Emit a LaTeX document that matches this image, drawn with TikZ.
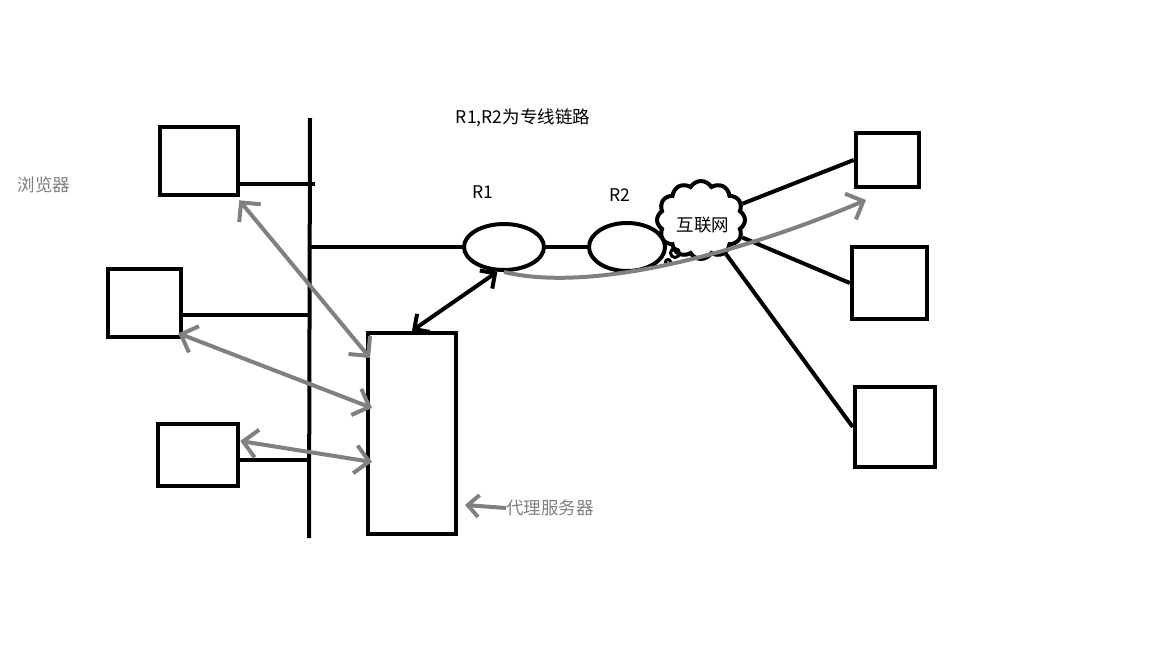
\documentclass[tikz,border=0pt]{standalone}
\usepackage{fontspec}
\setmainfont{Noto Sans CJK SC}
\usetikzlibrary{arrows.meta, shapes.geometric, shapes.symbols, positioning, calc}
\definecolor{pen}{RGB}{128,128,128}

\begin{document}
\begin{tikzpicture}[x=1pt, y=-1pt,
    box/.style={draw, line width=4.5pt, inner sep=0pt},
    router/.style={draw, ellipse, line width=4pt, inner sep=0pt},
    wire/.style={line width=4pt},
    grayarrow/.style={pen, line width=4pt, {Straight Barb[length=14pt, width=28pt]}-{Straight Barb[length=14pt, width=28pt]}},
    blackarrow/.style={line width=4pt, {Straight Barb[length=11pt, width=22pt]}-{Straight Barb[length=11pt, width=22pt]}},
    lbl/.style={font=\fontsize{17.5}{20}\selectfont, inner sep=0pt}]
      \useasboundingbox (0, 0) rectangle (1152, 648);

      % browsers and bus
      \node[box, minimum width=78, minimum height=68] (b1) at (199, 161) {};
      \node[box, minimum width=73, minimum height=68] (b2) at (144.5, 303) {};
      \node[box, minimum width=80, minimum height=62] (b3) at (198, 455) {};
      \coordinate (bustop) at (310, 118);
      \coordinate (busbot) at (309, 538);
      \draw[wire] (bustop) -- (busbot);
      \coordinate (j1) at (315, 184);
      \coordinate (j2) at (310, 315);
      \coordinate (j3) at (310, 460);
      \draw[wire] (b1.east |- j1) -- (j1);
      \draw[wire] (b2.east |- j2) -- (j2);
      \draw[wire] (b3.east |- j3) -- (j3);

      % routers and internet
      \node[router, minimum width=80, minimum height=46] (r1) at (504, 247) {};
      \node[router, minimum width=76, minimum height=48] (r2) at (627, 247) {};
      \node[draw, cloud, cloud puffs=12, cloud puff arc=120, aspect=1.15, line width=4pt,
            minimum width=88, minimum height=78, inner sep=0pt] (net) at (701, 220) {};
      \node[lbl] (netlbl) at (703, 225) {互联网};
      \node[draw, circle, line width=3pt, minimum size=9pt, inner sep=0pt] (bub1) at (675, 253) {};
      \node[draw, circle, line width=3pt, minimum size=5pt, inner sep=0pt] (bub2) at (668, 262) {};
      \coordinate (j4) at (310, 247);
      \draw[wire] (j4) -- (r1.west);
      \draw[wire] (r1.east) -- (r2.west);
      \node[lbl] (r1lbl) at (483, 192) {R1};
      \node[lbl] (r2lbl) at (620, 195) {R2};
      \node[lbl] (title) at (523, 118) {R1,R2为专线链路};

      % servers
      \node[box, minimum width=63, minimum height=54] (s1) at (887.5, 160) {};
      \node[box, minimum width=75, minimum height=72] (s2) at (889.5, 283) {};
      \node[box, minimum width=80, minimum height=80] (s3) at (895, 427) {};
      \draw[wire] (net) -- (s1.west);
      \draw[wire] (net) -- (s2.west);
      \draw[wire] (net) -- (s3.west);

      % proxy
      \node[box, minimum width=88, minimum height=201] (proxy) at (412, 433.5) {};
      \node[lbl, pen] (proxylbl) at (550, 508) {代理服务器};
      \coordinate (ptip) at (465, 505);
      \draw[pen, line width=4pt, -{Straight Barb[length=11pt, width=22pt]}] (proxylbl.west) -- (ptip);
      \node[lbl, pen] (browserlbl) at (44, 185) {浏览器};

      % requests
      \coordinate (p1) at (370, 358);
      \coordinate (p2) at (372, 408);
      \coordinate (p3) at (372, 462);
      \draw[grayarrow] ([xshift=-1pt, yshift=-3pt]b1.south east) -- (p1);
      \draw[grayarrow] ([xshift=-5pt, yshift=6pt]b2.south east) -- (p2);
      \draw[grayarrow] ([yshift=14pt]b3.east) -- (p3);
      \draw[blackarrow] (r1.255) -- (proxy.north);
      \coordinate (stip) at (866, 200);
      \draw[pen, line width=4pt, -{Straight Barb[length=14pt, width=28pt]}]
        (r1.south) .. controls (600, 295) and (760, 245) .. (stip);
\end{tikzpicture}
\end{document}
